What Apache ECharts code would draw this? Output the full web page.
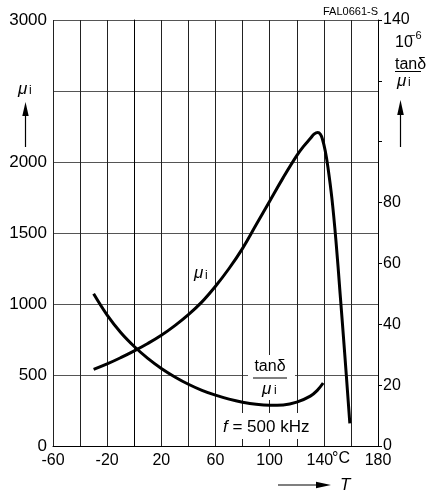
<!DOCTYPE html>
<html><head><meta charset="utf-8">
<script src="https://cdn.jsdelivr.net/npm/echarts@6/dist/echarts.min.js"></script>
<style>html,body{margin:0;padding:0;background:#fff}#c{width:426px;height:494px}</style>
</head><body><div id="c"></div>
<script>
// Tick labels shown
const xTicks = [-60, -20, 20, 60, 100, 140, 180];
const leftTicks = [0, 500, 1000, 1500, 2000, 3000];
const rightTicks = [0, 20, 40, 60, 80, 140];
// mu_i vs T (left axis)
const muT = [-30, -20, -10, 0, 10, 20, 30, 40, 50, 60, 70, 80, 90, 100, 110, 120, 125, 130, 133, 135.5, 137.5, 139, 141, 143, 146, 149, 152, 155.5, 159.2];
const muV = [540, 578, 622, 670, 722, 780, 848, 925, 1015, 1125, 1250, 1392, 1558, 1724, 1890, 2045, 2110, 2165, 2198, 2208, 2195, 2160, 2080, 1965, 1740, 1440, 1075, 640, 160];
// tan(delta)/mu_i vs T (right axis, 1e-6)
const tanT = [-30, -20, -10, 0, 10, 20, 30, 40, 50, 60, 70, 80, 90, 100, 110, 120, 130, 135, 139.5];
const tanV = [50, 43, 37.3, 32.7, 28.8, 25.5, 22.7, 20.3, 18.3, 16.7, 15.4, 14.4, 13.7, 13.4, 13.5, 14.4, 16.4, 18.2, 20.7];

const FONT = '"Liberation Sans", Arial, Helvetica, sans-serif';
const chart = echarts.init(document.getElementById('c'), null, {renderer: 'canvas'});

function T(x, y, s, size, opt) {
  return {type: 'text', x: x, y: y, z: 20,
    style: Object.assign({text: s, fill: '#000', fontSize: size, fontFamily: FONT,
      align: 'left', verticalAlign: 'middle'}, opt || {})};
}
function L(x1, y1, x2, y2, w) {
  return {type: 'line', z: 20, shape: {x1: x1, y1: y1, x2: x2, y2: y2}, style: {stroke: '#000', lineWidth: w || 1}};
}
function P(pts) {
  return {type: 'polygon', z: 20, shape: {points: pts}, style: {fill: '#000'}};
}
function R(x, y, w, h) {
  return {type: 'rect', z: 1, shape: {x: x, y: y, width: w, height: h}, style: {fill: '#fff'}};
}

const option = {
  animation: false,
  backgroundColor: '#fff',
  grid: {left: 53, right: 48, top: 20, bottom: 48, containLabel: false},
  xAxis: {
    type: 'value', min: -60, max: 180, interval: 20,
    axisLine: {show: true, lineStyle: {color: '#000', width: 1}},
    axisTick: {show: false},
    splitLine: {show: true, lineStyle: {color: '#222', width: 1}},
    axisLabel: {show: true, color: '#000', fontSize: 16, fontFamily: FONT, margin: 7,
      showMinLabel: true, showMaxLabel: true,
      rich: {s: {fontSize: 16, fontFamily: FONT, color: '#000', padding: [0, 8, 0, 0]}},
      formatter: v => v === 140 ? '{s|140}' : (xTicks.includes(v) ? String(v) : '')}
  },
  yAxis: [{
    type: 'value', min: 0, max: 3000, interval: 500, position: 'left',
    axisLine: {show: true, lineStyle: {color: '#000', width: 1}},
    axisTick: {show: false},
    splitLine: {show: true, lineStyle: {color: '#555', width: 1}},
    axisLabel: {show: true, color: '#000', fontSize: 17, fontFamily: FONT, margin: 6,
      showMinLabel: true, showMaxLabel: true,
      formatter: v => leftTicks.includes(v) ? String(v) : ''}
  }, {
    type: 'value', min: 0, max: 140, interval: 20, position: 'right',
    axisLine: {show: true, lineStyle: {color: '#000', width: 1}},
    axisTick: {show: true, length: 4, lineStyle: {color: '#000'}},
    splitLine: {show: false},
    axisLabel: {show: true, color: '#000', fontSize: 16, fontFamily: FONT, margin: 5,
      showMinLabel: true, showMaxLabel: true,
      formatter: v => rightTicks.includes(v) ? String(v) : ''}
  }],
  series: [{
    type: 'line', yAxisIndex: 0, smooth: 0.4, symbol: 'none', z: 5,
    lineStyle: {color: '#000', width: 3},
    data: muT.map((t, i) => [t, muV[i]])
  }, {
    type: 'line', yAxisIndex: 1, smooth: 0.4, symbol: 'none', z: 5,
    lineStyle: {color: '#000', width: 3},
    data: tanT.map((t, i) => [t, tanV[i]])
  }],
  graphic: {elements: [
    // white boxes behind in-plot labels
    R(248, 355, 47, 45),
    R(219, 413, 96, 26),
    // header
    T(378, 12, 'FAL0661-S', 11, {align: 'right'}),
    // left title
    T(18, 89, 'μ', 17, {fontStyle: 'italic'}),
    T(29, 91, 'i', 12),
    L(25.5, 147, 25.5, 112, 1.2),
    P([[25.5, 102], [22.3, 116], [28.7, 116]]),
    // right title
    T(395, 43, '10', 16),
    T(409, 36, '−6', 11),
    T(395, 65, 'tanδ', 16),
    L(395, 71.5, 421, 71.5, 1),
    T(397, 81, 'μ', 17, {fontStyle: 'italic'}),
    T(408, 83, 'i', 12),
    L(400.5, 147, 400.5, 112, 1.2),
    P([[400.5, 100], [397.2, 115], [403.8, 115]]),
    // x unit and title
    T(341, 459, '°C', 16, {align: 'center'}),
    L(278, 485, 320, 485, 1.2),
    P([[331, 485], [316, 481.8], [316, 488.2]]),
    T(340, 485, 'T', 17, {fontStyle: 'italic'}),
    // curve labels
    T(194, 273, 'μ', 17, {fontStyle: 'italic'}),
    T(205, 276, 'i', 12),
    T(270, 367, 'tanδ', 16, {align: 'center'}),
    L(253, 378, 287, 378, 1),
    T(262, 389, 'μ', 17, {fontStyle: 'italic'}),
    T(274, 391, 'i', 12),
    {type: 'text', x: 223, y: 427, z: 20, style: {
      text: '{a|f}{b| = 500 kHz}', verticalAlign: 'middle', align: 'left',
      rich: {a: {fontSize: 17, fontStyle: 'italic', fontFamily: FONT, fill: '#000'},
             b: {fontSize: 17, fontFamily: FONT, fill: '#000'}}}}
  ]}
};
chart.setOption(option);
</script></body></html>
